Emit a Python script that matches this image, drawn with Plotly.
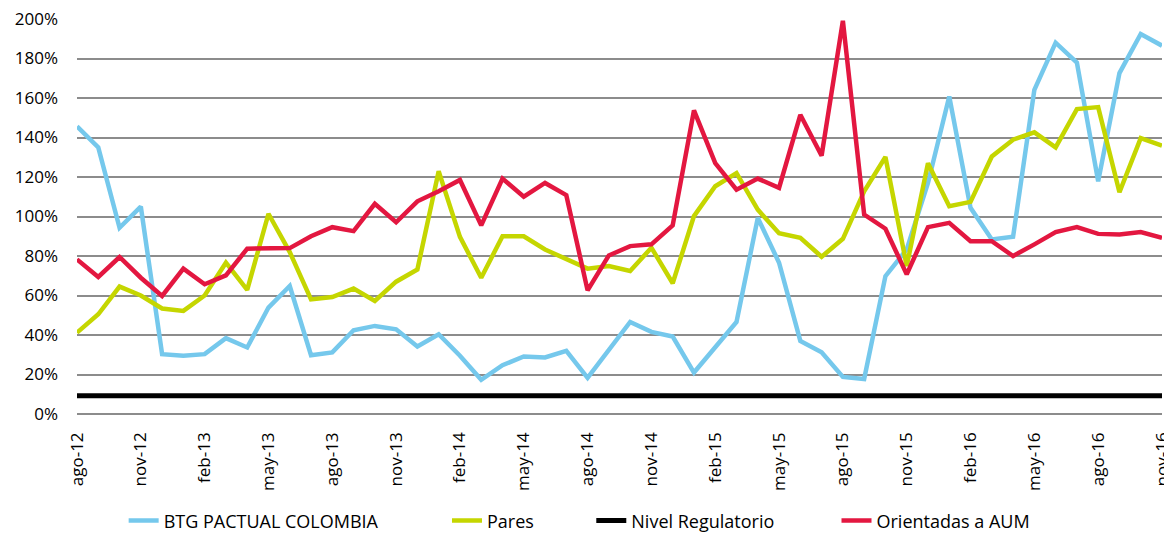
import plotly.graph_objects as go

months = ["ago-12","sep-12","oct-12","nov-12","dic-12","ene-13","feb-13","mar-13","abr-13","may-13","jun-13","jul-13",
          "ago-13","sep-13","oct-13","nov-13","dic-13","ene-14","feb-14","mar-14","abr-14","may-14","jun-14","jul-14",
          "ago-14","sep-14","oct-14","nov-14","dic-14","ene-15","feb-15","mar-15","abr-15","may-15","jun-15","jul-15",
          "ago-15","sep-15","oct-15","nov-15","dic-15","ene-16","feb-16","mar-16","abr-16","may-16","jun-16","jul-16",
          "ago-16","sep-16","oct-16","nov-16"]

btg = [145.6,135,94.3,105,30.3,29.5,30.3,38.4,33.7,53.9,64.8,29.8,
       31.2,42.4,44.6,42.9,34.2,40.4,29.5,17.3,24.7,29.1,28.6,32,
       18.3,32.8,46.6,41.6,39.2,21,33.7,46.6,99.3,76.6,37,31.2,
       18.8,17.7,69.8,83.3,117,160.8,104.4,88.4,89.7,164.1,188,177.9,
       117.8,172.6,192.4,186.5]

pares = [41.2,50.5,64.5,60,53.4,52.2,60,76.6,62.8,101.4,82,58,
         59.2,63.5,57.2,67,73.2,122.9,89.7,69,90,90,83.3,78.3,
         73.6,74.9,72.4,84.2,66.2,100.2,115.3,122,103.5,91.5,89.2,79.6,
         88.7,112.8,130.1,74.9,127,105.2,107.4,130.4,138.9,142.6,135,154.4,
         155.4,112.3,139.7,135.9]

regulatorio = [9.2] * len(months)

aum = [78.3,69.4,79.5,69,59.8,73.6,65.7,70.2,83.7,83.7,84,90,
       94.6,92.6,106.4,97.1,107.7,112.8,118.5,95.5,119.2,110,117,110.8,
       62.6,80.3,85,85.9,95.5,153.7,127,113.6,119.2,114.5,151.5,130.8,
       199.1,101,93.8,70.7,94.6,96.8,87.5,87.5,80,85.9,92.1,94.6,
       91.2,90.9,92.1,89.2]

tick_labels = months[::3]
y_tickvals = [0, 20, 40, 60, 80, 100, 120, 140, 160, 180, 200]
y_ticktext = ["0%", "20%", "40%", "60%", "80%", "100%", "120%", "140%", "160%", "180%", "200%"]

series = [
    ("BTG PACTUAL COLOMBIA", btg, "#75C8EC", 4.5),
    ("Pares", pares, "#C5D600", 4.5),
    ("Nivel Regulatorio", regulatorio, "#000000", 5),
    ("Orientadas a AUM", aum, "#E31740", 4.5),
]
legend_ids = ["legend", "legend2", "legend3", "legend4"]
legend_x = [0.043, 0.341, 0.474, 0.70]

fig = go.Figure()
for (name, vals, col, w), lid in zip(series, legend_ids):
    fig.add_trace(go.Scatter(x=months, y=vals, mode="lines", name=name,
                             line=dict(color=col, width=w), legend=lid))

FONT = "Open Sans, Liberation Sans, Arial"
layout_legends = {}
for lid, lx in zip(legend_ids, legend_x):
    layout_legends[lid] = dict(orientation="h", x=lx, xanchor="left",
                               yref="container", y=0.023, yanchor="middle",
                               font=dict(family=FONT, size=18, color="#000"),
                               bgcolor="rgba(0,0,0,0)")

fig.update_layout(
    width=1164, height=525,
    margin=dict(l=69, r=10, t=11, b=119),
    plot_bgcolor="white", paper_bgcolor="white",
    font=dict(family=FONT, size=16, color="#000"),
    showlegend=True,
    **layout_legends,
)
fig.update_xaxes(type="category", categoryorder="array", categoryarray=months,
                 range=[0, len(months) - 1], automargin=False,
                 tickmode="array", tickvals=tick_labels, ticktext=tick_labels,
                 tickangle=-90, showgrid=False, showline=False, ticks="",
                 ticklabelstandoff=14, ticklabeloverflow="allow",
                 tickfont=dict(family=FONT, size=17))
fig.update_yaxes(range=[0, 200.001], tickmode="array",
                 tickvals=y_tickvals, ticktext=y_ticktext,
                 showgrid=True, automargin=False, ticklabeloverflow="allow",
                 gridcolor="#8C8C8C", gridwidth=1.5, zeroline=True, zerolinecolor="#8C8C8C",
                 zerolinewidth=1.5, ticklabelstandoff=18, tickfont=dict(family=FONT, size=17))

fig.write_html("out.html")
